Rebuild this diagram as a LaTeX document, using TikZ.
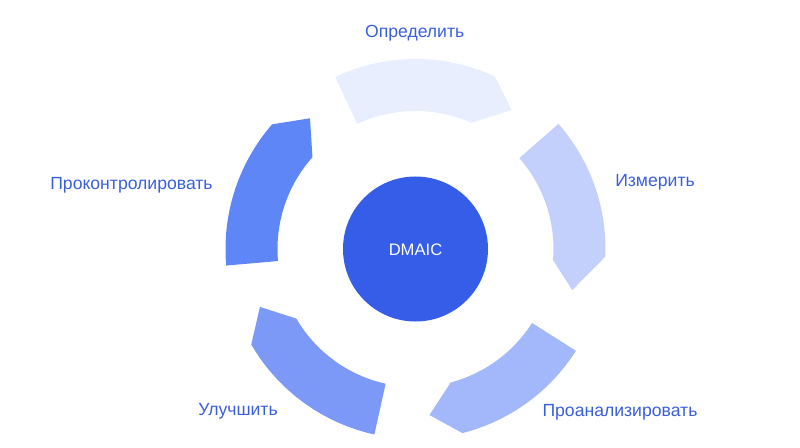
\documentclass[tikz,border=0pt]{standalone}
\usepackage{fontspec}
\setmainfont{Liberation Sans}
\usepackage{tikz}
\usetikzlibrary{%
  calc,%
  positioning%
}
\definecolor{cDefine}{HTML}{E8EEFD}
\definecolor{cMeasure}{HTML}{C3D0FB}
\definecolor{cAnalyze}{HTML}{A3B8FA}
\definecolor{cImprove}{HTML}{7C99F8}
\definecolor{cControl}{HTML}{5F86F7}
\definecolor{cCore}{HTML}{355DE8}
\definecolor{cLabel}{HTML}{3A5FDB}
\newcommand{\ringseg}[6]{%
  \fill[#1] (#2:190pt) arc[start angle=#2, end angle=#3, radius=190pt]
    -- (#5:#6pt) -- (#4:138pt) arc[start angle=#4, end angle=#2, radius=138pt] -- cycle;
}

\begin{document}
\begin{tikzpicture}[x=1pt, y=1pt,
  lbl/.style={text=cLabel, font=\fontsize{17.6}{20}\selectfont, anchor=base, inner sep=0pt}]
\useasboundingbox (-415.5,-198) rectangle (384.5,249);

\ringseg{cDefine}{115}{65.3}{66.2}{55.3}{169}
\ringseg{cMeasure}{41.2}{-2.3}{-4.6}{-14.7}{162}
\ringseg{cAnalyze}{-32.4}{-75.7}{-75.2}{-85.2}{166.6}
\ringseg{cImprove}{-102.5}{-149.8}{-149.7}{-159.6}{166}
\ringseg{cControl}{185}{139}{138.3}{128.9}{168}

\node[circle, fill=cCore, minimum size=145pt, inner sep=0pt] (core) at (0,0) {};
\node[lbl, text=white, font=\fontsize{16.6}{20}\selectfont] (dmaic) at (0,-6.7) {DMAIC};

\node[lbl] (define) at (-0.8,211.7) {Определить};
\node[lbl] (measure) at (239.5,63) {Измерить};
\node[lbl] (analyze) at (204.5,-167) {Проанализировать};
\node[lbl] (improve) at (-177.5,-166) {Улучшить};
\node[lbl] (control) at (-284,59.7) {Проконтролировать};
\end{tikzpicture}
\end{document}
